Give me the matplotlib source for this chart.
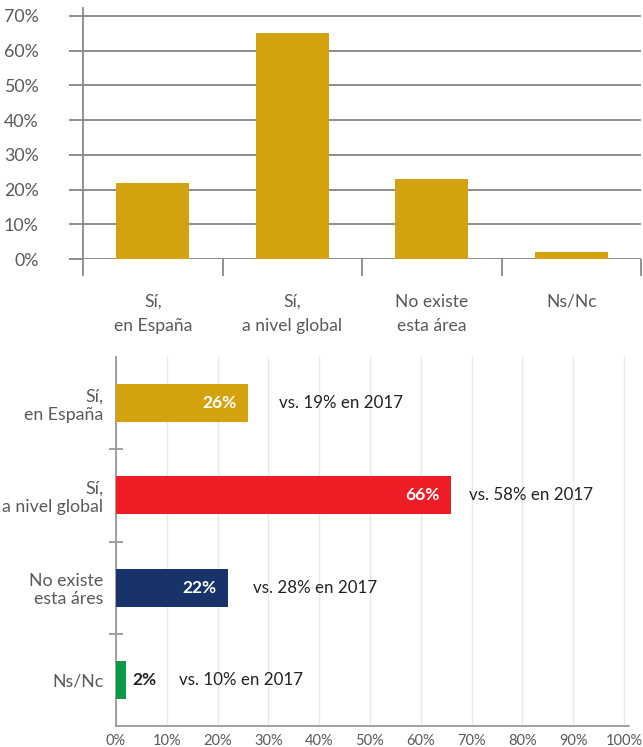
import matplotlib
matplotlib.use("Agg")
import matplotlib.pyplot as plt
import numpy as np

plt.rcParams["font.family"] = ["Lato", "DejaVu Sans"]

# --- data -------------------------------------------------------------
top_labels = ["Sí,\nen España", "Sí,\na nivel global", "No existe\nesta área", "Ns/Nc"]
top_values = [22, 65, 23, 2]
top_yticks = [0, 10, 20, 30, 40, 50, 60, 70]

bar_labels = ["Sí,\nen España", "Sí,\na nivel global", "No existe\nesta áres", "Ns/Nc"]
bar_values = [26, 66, 22, 2]
prev_values = [19, 58, 28, 10]
bar_colors = ["#D4A20F", "#EE1C25", "#17336A", "#0B9A48"]
bottom_xticks = [0, 10, 20, 30, 40, 50, 60, 70, 80, 90, 100]

# layout: where the "vs." notes start (x in axis units)
note_x = [32, 69.5, 27, 12.5]

GOLD = "#D4A20F"
GRID = "#6f6f6f"
TXT = "#5a5a5a"

fig = plt.figure(figsize=(6.43, 7.47), dpi=100)

# --- top: vertical bars -------------------------------------------------
ax1 = fig.add_axes([83 / 643, 488 / 747, 558 / 643, 251 / 747])
x = np.arange(len(top_values))
ax1.bar(x, top_values, width=0.52, color=GOLD, zorder=3)
ax1.set_xlim(-0.5, 3.5)
ax1.set_ylim(0, 70 * 251 / 243)
ax1.set_yticks(top_yticks)
ax1.set_yticklabels([f"{v}%" for v in top_yticks])
ax1.yaxis.grid(True, color=GRID, lw=1.1, zorder=0)
ax1.tick_params(axis="y", length=10, width=1.1, color=GRID, pad=22,
                labelsize=12.8, labelcolor=TXT)
ax1.set_xticks(x)
ax1.set_xticklabels(top_labels, linespacing=1.6)
ax1.set_xticks(np.arange(-0.5, 4.0, 1.0), minor=True)
ax1.tick_params(axis="x", which="major", length=0, pad=25,
                labelsize=12.6, labelcolor=TXT)
ax1.tick_params(axis="x", which="minor", length=12, width=1.3, color="#888888")
for s in ["top", "right", "bottom"]:
    ax1.spines[s].set_visible(False)
ax1.spines["left"].set_color("#888888")
ax1.spines["left"].set_linewidth(1.3)

# --- bottom: horizontal bars ----------------------------------------------
ax2 = fig.add_axes([116 / 643, 21 / 747, 513 / 643, 369 / 747])
y = np.arange(len(bar_values))[::-1]
ax2.barh(y, bar_values, height=0.41, color=bar_colors, zorder=3)
ax2.set_xlim(0, 101)
ax2.set_ylim(-0.5, 3.5)
ax2.set_xticks(bottom_xticks)
ax2.set_xticklabels([f"{v}%" for v in bottom_xticks])
ax2.xaxis.grid(True, color="#e8e8e8", lw=1, zorder=0)
ax2.tick_params(axis="x", length=0, pad=6, labelsize=10.5, labelcolor=TXT)
ax2.set_yticks(y)
ax2.set_yticklabels(bar_labels, linespacing=1.15, ha="right")
ax2.set_yticks([0.5, 1.5, 2.5], minor=True)
ax2.tick_params(axis="y", which="major", length=0, pad=9,
                labelsize=12.8, labelcolor=TXT)
ax2.tick_params(axis="y", which="minor", length=10, width=1.1,
                direction="inout", color="#888888")
for s in ["top", "right"]:
    ax2.spines[s].set_visible(False)
for s in ["left", "bottom"]:
    ax2.spines[s].set_color("#999999")
    ax2.spines[s].set_linewidth(1.3)

for yi, val, prev, nx in zip(y, bar_values, prev_values, note_x):
    if val >= 10:
        ax2.text(val - 2.3, yi, f"{val}%", ha="right", va="center",
                 color="white", fontsize=12.5, fontweight="bold", zorder=4)
    else:
        ax2.text(val + 1.2, yi, f"{val}%", ha="left", va="center",
                 color="#222222", fontsize=12.5, fontweight="bold", zorder=4)
    ax2.text(nx, yi, f"vs. {prev}% en 2017", ha="left", va="center",
             color="#222222", fontsize=12.2, zorder=4)

fig.savefig("out.png", dpi=100)
